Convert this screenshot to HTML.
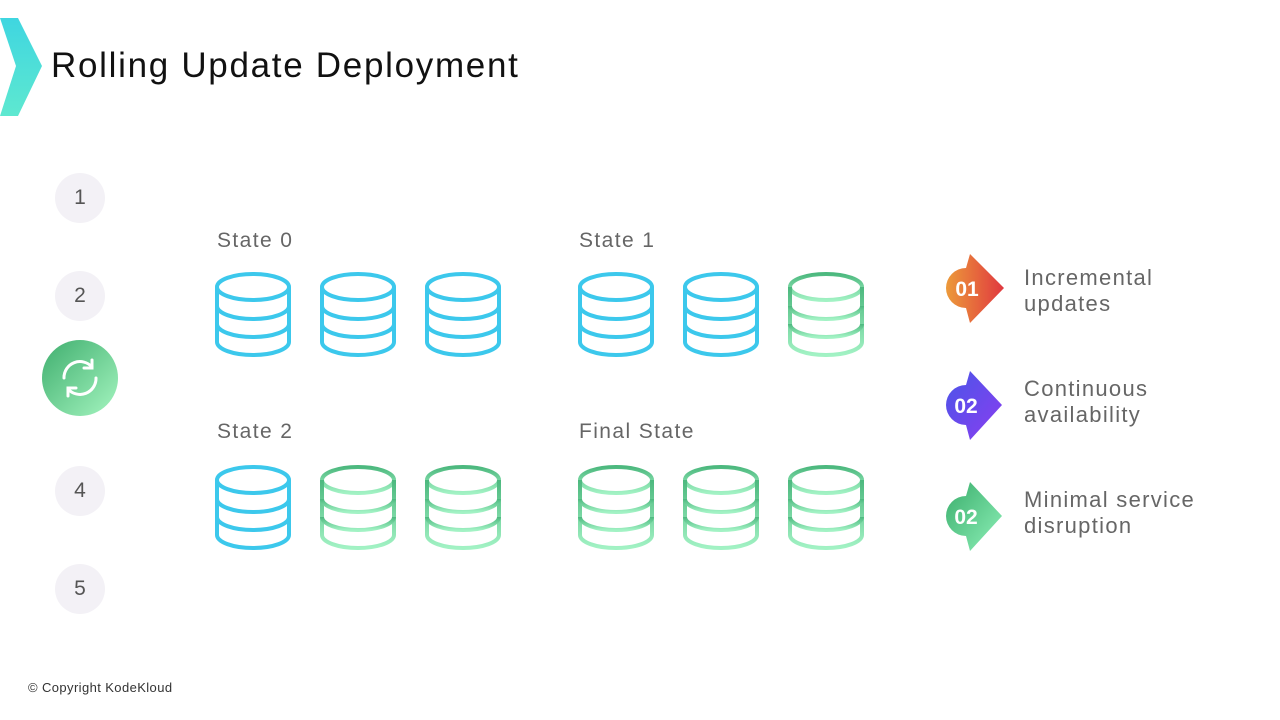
<!DOCTYPE html>
<html><head><meta charset="utf-8"><style>
body{margin:0;width:1280px;height:720px;background:#fff;font-family:"Liberation Sans",sans-serif;overflow:hidden;position:relative}
.t{position:absolute;color:#666;font-size:21px;letter-spacing:1.4px}
.n{position:absolute;width:50px;height:50px;border-radius:50%;background:#f3f1f6;color:#555;font-size:21px;text-align:center;line-height:50px;left:55px}
.r{position:absolute;left:1024px;color:#666;font-size:22px;line-height:26px;letter-spacing:1.3px}
</style></head><body>
<svg width="1280" height="720" style="position:absolute;left:0;top:0">
<defs>
<linearGradient id="tl" x1="0" y1="0" x2="0" y2="1"><stop offset="0" stop-color="#3fd6e0"/><stop offset="1" stop-color="#5ee8d0"/></linearGradient>
<linearGradient id="g" x1="0" y1="0" x2="0" y2="1"><stop offset="0" stop-color="#4cb87e"/><stop offset="1" stop-color="#a2f2c4"/></linearGradient>
<linearGradient id="gc" x1="0" y1="0" x2="1" y2="1"><stop offset="0" stop-color="#3fae6e"/><stop offset="1" stop-color="#a5f5c0"/></linearGradient>
<linearGradient id="o" x1="0" y1="0" x2="1" y2="0"><stop offset="0" stop-color="#ec9a3a"/><stop offset="1" stop-color="#e0383f"/></linearGradient>
<linearGradient id="p" x1="0" y1="0" x2="1" y2="1"><stop offset="0" stop-color="#4a55e8"/><stop offset="1" stop-color="#8a3ef0"/></linearGradient>
<linearGradient id="gg" x1="0" y1="0" x2="1" y2="1"><stop offset="0" stop-color="#3aae6c"/><stop offset="1" stop-color="#8ef0b8"/></linearGradient>
<symbol id="db" viewBox="0 0 80 86" overflow="visible">
<g fill="none" stroke-width="4">
<ellipse cx="40" cy="15" rx="36" ry="13"/>
<path d="M4 15 V70 A36 13 0 0 0 76 70 V15"/>
<path d="M4 34 A36 13 0 0 0 76 34"/>
<path d="M4 52 A36 13 0 0 0 76 52"/>
</g></symbol>
</defs>
<path d="M0 18 L18 18 L42 66 L18 116 L0 116 L16 66 Z" fill="url(#tl)"/>
<g stroke="#3cc8ec">
<use href="#db" x="213" y="272" width="80" height="86"/><use href="#db" x="318" y="272" width="80" height="86"/><use href="#db" x="423" y="272" width="80" height="86"/>
<use href="#db" x="576" y="272" width="80" height="86"/><use href="#db" x="681" y="272" width="80" height="86"/>
<use href="#db" x="213" y="465" width="80" height="86"/>
</g>
<g stroke="url(#g)">
<use href="#db" x="786" y="272" width="80" height="86"/>
<use href="#db" x="318" y="465" width="80" height="86"/><use href="#db" x="423" y="465" width="80" height="86"/>
<use href="#db" x="576" y="465" width="80" height="86"/><use href="#db" x="681" y="465" width="80" height="86"/><use href="#db" x="786" y="465" width="80" height="86"/>
</g>
<circle cx="80" cy="378" r="38" fill="url(#gc)"/>
<g fill="none" stroke="#fff" stroke-width="3" stroke-linecap="round">
<path d="M64 378 A16 16 0 0 1 92 367"/><path d="M96 378 A16 16 0 0 1 68 389"/>
<path d="M92 360 V368 H84"/><path d="M68 396 V388 H76"/>
</g>
<g>
<path d="M970 254 L1004 288 L970 323 L966 308 A20 20 0 0 1 966 268 Z" fill="url(#o)"/>
<text x="967" y="296" fill="#fff" font-size="21" font-weight="bold" text-anchor="middle" font-family="Liberation Sans">01</text>
<path d="M970 371 L1002 405 L970 440 L966 425 A20 20 0 0 1 966 385 Z" fill="url(#p)"/>
<text x="966" y="413" fill="#fff" font-size="21" font-weight="bold" text-anchor="middle" font-family="Liberation Sans">02</text>
<path d="M970 482 L1002 516 L970 551 L966 536 A20 20 0 0 1 966 496 Z" fill="url(#gg)"/>
<text x="966" y="524" fill="#fff" font-size="21" font-weight="bold" text-anchor="middle" font-family="Liberation Sans">02</text>
</g>
</svg>
<div style="position:absolute;left:51px;top:46px;font-size:35px;color:#111;letter-spacing:1.7px">Rolling Update Deployment</div>
<div class="n" style="top:173px">1</div>
<div class="n" style="top:271px">2</div>
<div class="n" style="top:466px">4</div>
<div class="n" style="top:564px">5</div>
<div class="t" style="left:217px;top:229px">State 0</div>
<div class="t" style="left:579px;top:229px">State 1</div>
<div class="t" style="left:217px;top:420px">State 2</div>
<div class="t" style="left:579px;top:420px">Final State</div>
<div class="r" style="top:265px">Incremental<br>updates</div>
<div class="r" style="top:376px">Continuous<br>availability</div>
<div class="r" style="top:487px">Minimal service<br>disruption</div>
<div style="position:absolute;left:28px;top:680px;font-size:13px;color:#333;letter-spacing:0.4px">© Copyright KodeKloud</div>
</body></html>
